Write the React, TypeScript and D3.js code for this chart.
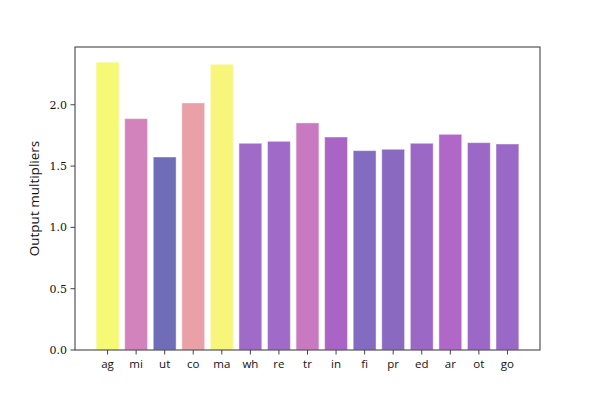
import React from "react";
import * as d3 from "d3";

const categories = ["ag", "mi", "ut", "co", "ma", "wh", "re", "tr", "in", "fi", "pr", "ed", "ar", "ot", "go"];
const values = [2.347, 1.887, 1.574, 2.015, 2.33, 1.686, 1.702, 1.852, 1.737, 1.626, 1.637, 1.686, 1.759, 1.691, 1.68];
const colors = ["#f5f974", "#d283bb", "#6f6cb8", "#e9a0a7", "#f7f57a", "#a06ac9", "#a06ac9", "#c979c0", "#a964c6", "#826bc0", "#8a69c1", "#9b68c6", "#b167c7", "#9b68c8", "#9a68c6"];
const yTicks = [0, 0.5, 1.0, 1.5, 2.0];

const W = 600, H = 400;
const left = 75, right = 540, top = 47, bottom = 350;

export default function App() {
  const x = d3.scaleLinear().domain([-1.14, categories.length - 1 + 1.14]).range([left, right]);
  const y = d3.scaleLinear().domain([0, 2.471]).range([bottom, top]);
  const bw = x(0.8) - x(0);
  return (
    <svg width={W} height={H} style={{ position: "absolute", left: 0, top: 0, background: "#fff" }}>
      {categories.map((c, i) => (
        <rect key={c} x={x(i) - bw / 2} y={y(values[i])} width={bw} height={y(0) - y(values[i])}
          fill={colors[i]} stroke="rgba(255,255,255,0.45)" strokeWidth={1} />
      ))}
      <rect x={left} y={top} width={right - left} height={bottom - top} fill="none" stroke="#444" strokeWidth={1.1} />
      {yTicks.map(t => (
        <g key={t}>
          <line x1={left - 4.5} x2={left} y1={y(t)} y2={y(t)} stroke="#444" strokeWidth={1} />
          <text x={left - 8} y={y(t)} dy="0.35em" textAnchor="end" style={{ fontFamily: "'DejaVu Serif', serif" }} fontSize={11} fill="#111">{t.toFixed(1)}</text>
        </g>
      ))}
      {categories.map((c, i) => (
        <g key={c}>
          <line x1={x(i)} x2={x(i)} y1={bottom} y2={bottom + 4.5} stroke="#444" strokeWidth={1} />
          <text x={x(i)} y={bottom + 18} textAnchor="middle" fontFamily="'Open Sans', 'DejaVu Sans', sans-serif" fontSize={11.5} fill="#111">{c}</text>
        </g>
      ))}
      <text transform={`translate(39,${(top + bottom) / 2}) rotate(-90)`} textAnchor="middle" fontFamily="'Open Sans', 'DejaVu Sans', sans-serif" fontSize={13.5} fill="#111">Output multipliers</text>
    </svg>
  );
}
